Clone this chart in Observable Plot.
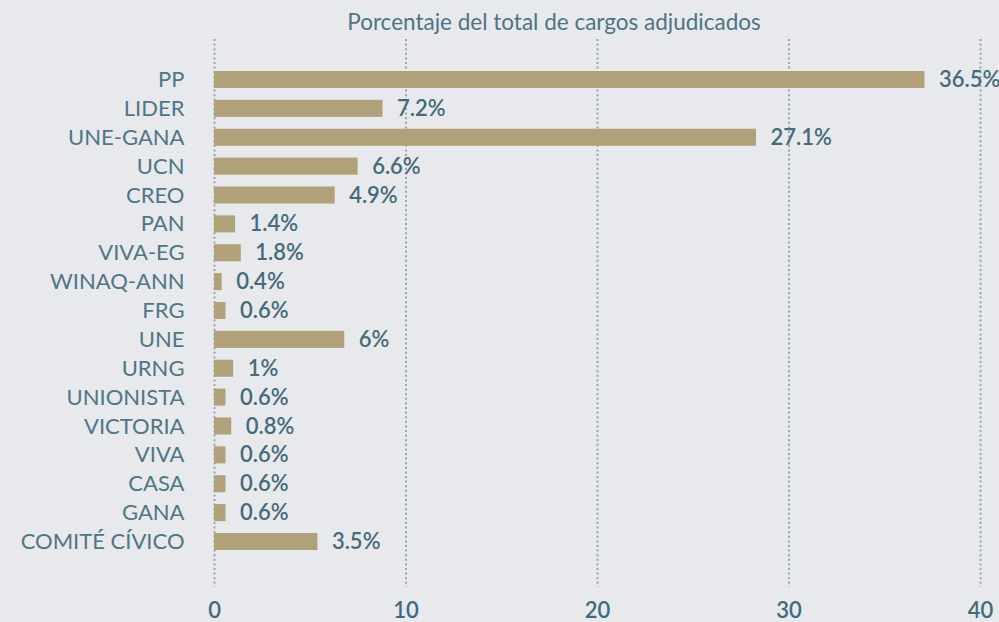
<!DOCTYPE html>
<html><head><meta charset="utf-8">
<script src="https://cdn.jsdelivr.net/npm/d3@7"></script>
<script src="https://cdn.jsdelivr.net/npm/@observablehq/plot@0.6"></script>
<style>
body{margin:0;background:#e8e9ec;font-family:Lato,sans-serif;}
#wrap{position:relative;width:999px;height:622px;overflow:hidden;background:#e8e9ec}
#title{position:absolute;left:554px;top:9px;transform:translateX(-50%);white-space:nowrap;font-size:22.5px;font-weight:400;color:#4d7483;line-height:26px}
#chart{position:absolute;left:0;top:39px}
</style></head><body>
<div id="wrap"><div id="title"></div><div id="chart"></div></div>
<script>
const titleText = "Porcentaje del total de cargos adjudicados";
const categories = ["PP","LIDER","UNE-GANA","UCN","CREO","PAN","VIVA-EG","WINAQ-ANN","FRG","UNE","URNG","UNIONISTA","VICTORIA","VIVA","CASA","GANA","COMITÉ CÍVICO"];
// bar lengths as drawn in the picture
const barValues = [37.1, 8.8, 28.3, 7.5, 6.3, 1.1, 1.4, 0.4, 0.6, 6.8, 1.0, 0.6, 0.9, 0.6, 0.6, 0.6, 5.4];
// percentages printed next to the bars
const labelValues = [36.5, 7.2, 27.1, 6.6, 4.9, 1.4, 1.8, 0.4, 0.6, 6, 1, 0.6, 0.8, 0.6, 0.6, 0.6, 3.5];
const xTicks = [0, 10, 20, 30, 40];

document.getElementById("title").textContent = titleText;
const data = categories.map((c, i) => ({party: c, value: barValues[i], label: labelValues[i] + "%"}));

const plot = Plot.plot({
  width: 999, height: 583,
  marginLeft: 214, marginRight: 19, marginTop: 0, marginBottom: 35,
  style: {background: "transparent", fontFamily: "Lato, sans-serif"},
  x: {domain: [0, 40], ticks: xTicks},
  y: {domain: categories, range: [32, 511], paddingInner: 0.41, paddingOuter: 0, round: false},
  marks: [
    Plot.gridX(xTicks, {stroke: "#98a2ad", strokeOpacity: 1, strokeWidth: 2, strokeDasharray: "2,2.6"}),
    Plot.barX(data, {x: "value", y: "party", fill: "#b0a178"}),
    Plot.text(data, {x: "value", y: "party", text: "label", textAnchor: "start", dx: 14, fontSize: 22, fontWeight: 600, fill: "#436b7b"}),
    Plot.axisY({tickSize: 0, tickPadding: 30, fontSize: 22, fontWeight: 400, fill: "#4e7687", label: null}),
    Plot.axisX(xTicks, {tickSize: 0, tickPadding: 15, fontSize: 22, fontWeight: 600, fill: "#3f6b80", label: null})
  ]
});
document.getElementById("chart").appendChild(plot);
</script>
</body></html>
